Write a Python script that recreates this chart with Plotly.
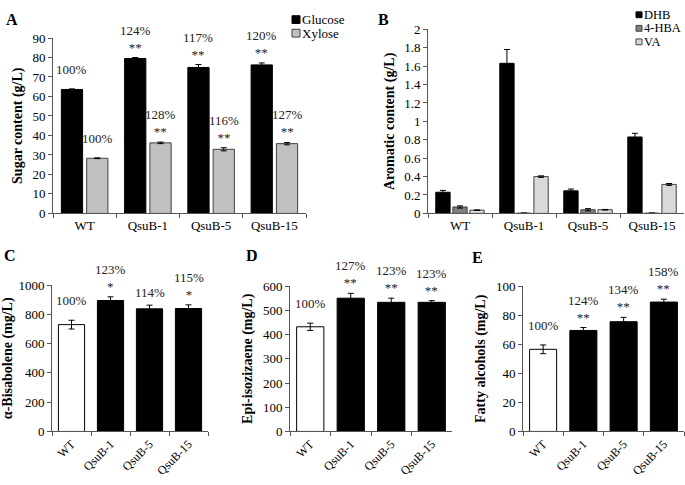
import plotly.graph_objects as go

# ---------------- data ----------------
strains = ["WT", "QsuB-1", "QsuB-5", "QsuB-15"]

# Panel A: sugars (g/L)
glucose = [63.6, 79.5, 74.9, 76.2]
glucose_err = [0.3, 0.5, 1.5, 1.0]
xylose = [28.3, 36.2, 32.9, 35.8]
xylose_err = [0.2, 0.4, 0.8, 0.6]
glucose_pct = ["100%", "124%", "117%", "120%"]
glucose_sig = ["", "**", "**", "**"]
xylose_pct = ["100%", "128%", "116%", "127%"]
xylose_sig = ["", "**", "**", "**"]

# Panel B: aromatics (g/L)
dhb = [0.23, 1.63, 0.245, 0.83]
dhb_err = [0.02, 0.15, 0.02, 0.04]
hba = [0.07, 0.003, 0.04, 0.003]
hba_err = [0.012, 0.001, 0.012, 0.001]
va = [0.035, 0.40, 0.04, 0.315]
va_err = [0.003, 0.008, 0.003, 0.01]

# Panel C: alpha-bisabolene (mg/L)
bisabolene = [730, 895, 838, 840]
bisabolene_err = [30, 25, 25, 25]
bisabolene_pct = ["100%", "123%", "114%", "115%"]
bisabolene_sig = ["", "*", "", "*"]

# Panel D: epi-isozizaene (mg/L)
isozizaene = [432, 550, 533, 533]
isozizaene_err = [15, 20, 17, 7]
isozizaene_pct = ["100%", "127%", "123%", "123%"]
isozizaene_sig = ["", "**", "**", "**"]

# Panel E: fatty alcohols (mg/L)
fatty = [56.5, 69.5, 75.5, 89.0]
fatty_err = [3.0, 2.0, 3.0, 2.0]
fatty_pct = ["100%", "124%", "134%", "158%"]
fatty_sig = ["", "**", "**", "**"]

# ---------------- styling ----------------
W, H = 685, 485
FONT = "Liberation Serif"
AXCOL = "#555555"

def px_x(a, b):
    return [a / W, b / W]

def px_y(top, bottom):
    return [(H - bottom) / H, (H - top) / H]

fig = go.Figure()

def err(arr):
    return dict(type="data", array=arr, visible=True, color="black", thickness=1, width=3)

series_a = [("Glucose", glucose, glucose_err, "black", "black"),
            ("Xylose", xylose, xylose_err, "#c0c0c0", "#404040")]
series_b = [("DHB", dhb, dhb_err, "black", "black"),
            ("4-HBA", hba, hba_err, "#7f7f7f", "#404040"),
            ("VA", va, va_err, "#d9d9d9", "#404040")]

for name, vals, errs, fill, edge in series_a:
    fig.add_bar(x=strains, y=vals, error_y=err(errs), name=name, showlegend=False,
                marker=dict(color=fill, line=dict(color=edge, width=1)),
                xaxis="x", yaxis="y")
for name, vals, errs, fill, edge in series_b:
    fig.add_bar(x=strains, y=vals, error_y=err(errs), name=name, showlegend=False,
                marker=dict(color=fill, line=dict(color=edge, width=1)),
                xaxis="x2", yaxis="y2")

single_colors = ["white", "black", "black", "black"]
for vals, errs, ax in [(bisabolene, bisabolene_err, "3"),
                       (isozizaene, isozizaene_err, "4"),
                       (fatty, fatty_err, "5")]:
    fig.add_bar(x=strains, y=vals, error_y=err(errs), showlegend=False,
                marker=dict(color=single_colors, line=dict(color="black", width=1)),
                xaxis="x" + ax, yaxis="y" + ax)

annotations = []
shapes = []

def add_labels(vals, errs, pcts, sigs, ax, offset=0.0):
    for i, (v, e, p, s) in enumerate(zip(vals, errs, pcts, sigs)):
        text = p + ("<br>" + s if s else "")
        annotations.append(dict(
            x=i + offset, y=v + e, xref="x" + ax, yref="y" + ax,
            text=text, showarrow=False, yanchor="bottom", xanchor="center",
            yshift=1 if s else (10 if i == 0 else 3),
            font=dict(family=FONT, size=13, color="#222222")))

add_labels(glucose, glucose_err, glucose_pct, glucose_sig, "", -0.2)
add_labels(xylose, xylose_err, xylose_pct, xylose_sig, "", 0.2)
add_labels(bisabolene, bisabolene_err, bisabolene_pct, bisabolene_sig, "3")
add_labels(isozizaene, isozizaene_err, isozizaene_pct, isozizaene_sig, "4")
add_labels(fatty, fatty_err, fatty_pct, fatty_sig, "5")

for letter, x, y in [("A", 4, 2), ("B", 376, 2), ("C", 2, 246), ("D", 244, 246), ("E", 470, 248)]:
    annotations.append(dict(x=x / W, y=1 - y / H, xref="paper", yref="paper",
                            text="<b>" + letter + "</b>", showarrow=False,
                            xanchor="left", yanchor="top",
                            font=dict(family=FONT, size=16, color="black")))

# hand-built compact legends (like the original figure)
def add_legend(series, x0, y0, step, size, fsize):
    for k, (name, _v, _e, fill, edge) in enumerate(series):
        yc = y0 + k * step
        shapes.append(dict(type="rect", xref="paper", yref="paper",
                           x0=x0 / W, x1=(x0 + size) / W,
                           y0=1 - (yc + size / 2) / H, y1=1 - (yc - size / 2) / H,
                           fillcolor=fill, line=dict(color=edge, width=1)))
        annotations.append(dict(x=(x0 + size + 1) / W, y=1 - yc / H, xref="paper", yref="paper",
                                text=name, showarrow=False, xanchor="left", yanchor="middle",
                                borderpad=0,
                                font=dict(family=FONT, size=fsize, color="black")))

add_legend(series_a, 292, 13, 14, 8, 13)
add_legend(series_b, 636, 8, 14, 6, 12.5)

def xaxis(domain, anchor, angle=0, size=13):
    return dict(domain=domain, anchor=anchor, type="category",
                range=[-0.5, 3.5], showline=True, linecolor=AXCOL, linewidth=1,
                ticks="outside", tickson="boundaries", ticklen=4, tickcolor=AXCOL,
                tickangle=angle, showgrid=False, zeroline=False,
                tickfont=dict(family=FONT, size=size, color="black"))

def yaxis(domain, anchor, rng, dtick, title):
    return dict(domain=domain, anchor=anchor, range=rng, dtick=dtick,
                showline=True, linecolor=AXCOL, linewidth=1,
                ticks="outside", ticklen=4, tickcolor=AXCOL,
                showgrid=False, zeroline=False,
                tickfont=dict(family=FONT, size=13, color="black"),
                title=dict(text="<b>" + title + "</b>", standoff=6,
                           font=dict(family=FONT, size=14, color="black")))

fig.update_layout(
    width=W, height=H,
    margin=dict(l=0, r=0, t=0, b=0),
    paper_bgcolor="white", plot_bgcolor="white",
    barmode="group", bargap=0.2, bargroupgap=0.16,
    font=dict(family=FONT, size=13, color="black"),
    showlegend=False,
    xaxis=xaxis(px_x(53, 306), "y"),
    yaxis=yaxis(px_y(32, 213), "x", [0, 90], 10, "Sugar content (g/L)"),
    xaxis2=xaxis(px_x(428, 684), "y2"),
    yaxis2=yaxis(px_y(23, 213), "x2", [0, 2], 0.2, "Aromatic content (g/L)"),
    xaxis3=xaxis(px_x(52, 208), "y3", -45, 12),
    yaxis3=yaxis(px_y(287, 438), "x3", [0, 1000], 200, "α-Bisabolene (mg/L)"),
    xaxis4=xaxis(px_x(290, 452), "y4", -45, 12),
    yaxis4=yaxis(px_y(288, 438), "x4", [0, 600], 100, "Epi-isozizaene (mg/L)"),
    xaxis5=xaxis(px_x(523, 684), "y5", -45, 12),
    yaxis5=yaxis(px_y(288, 438), "x5", [0, 100], 20, "Fatty alcohols (mg/L)"),
    annotations=annotations,
    shapes=shapes,
)

fig.write_html("out.html",
               config={"displayModeBar": False},
               post_script="document.body.style.margin='0';document.body.style.overflow='hidden';")
